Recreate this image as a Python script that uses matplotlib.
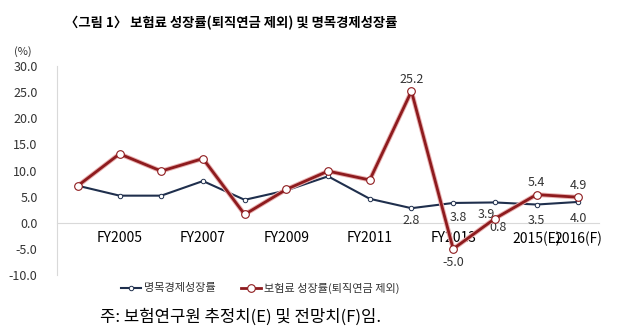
import matplotlib
matplotlib.use("Agg")
import matplotlib.pyplot as plt
import numpy as np

plt.rcParams['font.family'] = ['Noto Sans CJK KR', 'DejaVu Sans']

years = ['FY2004', 'FY2005', 'FY2006', 'FY2007', 'FY2008', 'FY2009', 'FY2010',
         'FY2011', 'FY2012', 'FY2013', 'FY2014', '2015(E)', '2016(F)']
tick_idx = [1, 3, 5, 7, 9, 11, 12]
nominal_gdp = [7.1, 5.2, 5.2, 8.0, 4.4, 6.2, 8.9, 4.6, 2.8, 3.8, 3.9, 3.5, 4.0]
premium = [7.1, 13.2, 9.9, 12.3, 1.6, 6.4, 9.9, 8.2, 25.2, -5.0, 0.8, 5.4, 4.9]

navy = '#1f2f4d'
red = '#8e1b1e'
grey = '#d9d9d9'

fig = plt.figure(figsize=(6.17, 3.29), dpi=100)
ax = fig.add_axes([0.0924, 0.164, 0.8786, 0.635])
x = np.arange(len(years))

ax.plot(x, nominal_gdp, color=navy, lw=1.5, marker='o', ms=3.2,
        mfc='white', mec=navy, mew=0.7, label='명목경제성장률', zorder=3)
# soft halo under the premium line
ax.plot(x, premium, color='#e8b0b0', lw=3.4, zorder=3.5, solid_capstyle='round')
ax.plot(x, premium, color=red, lw=2.0, marker='o', ms=5.5,
        mfc='white', mec=red, mew=0.8, label='보험료 성장률(퇴직연금 제외)', zorder=4)

ax.set_xlim(-0.5, 12.5)
ax.set_ylim(-10, 30)
ax.set_yticks(np.arange(-10, 31, 5))
ax.set_yticklabels([f'{v:.1f}' for v in np.arange(-10, 31, 5)], fontsize=9, color='#333333')
ax.set_xticks(tick_idx)
ax.set_xticklabels([years[i] for i in tick_idx], fontsize=8.3, color='#333333')
ax.tick_params(length=0)
ax.tick_params(axis='x', pad=6)
ax.tick_params(axis='y', pad=14)

for s in ['top', 'right']:
    ax.spines[s].set_visible(False)
ax.spines['bottom'].set_position(('data', 0))
ax.spines['bottom'].set_color(grey)
ax.spines['left'].set_color(grey)

# value labels
lbl = dict(fontsize=9, color='#333333', ha='center')
ax.annotate('25.2', (8, premium[8]), xytext=(0, 4), textcoords='offset points', va='bottom', **lbl)
ax.annotate('-5.0', (9, premium[9]), xytext=(0, -5), textcoords='offset points', va='top', **lbl)
ax.annotate('0.8', (10, premium[10]), xytext=(2, -2), textcoords='offset points', va='top', **lbl)
ax.annotate('5.4', (11, premium[11]), xytext=(0, 4), textcoords='offset points', va='bottom', **lbl)
ax.annotate('4.9', (12, premium[12]), xytext=(0, 4), textcoords='offset points', va='bottom', **lbl)
ax.annotate('2.8', (8, nominal_gdp[8]), xytext=(0, -4), textcoords='offset points', va='top', **lbl)
ax.annotate('3.8', (9, nominal_gdp[9]), xytext=(4, -6), textcoords='offset points', va='top', **lbl)
ax.annotate('3.9', (10, nominal_gdp[10]), xytext=(-6, -4), textcoords='offset points', va='top', **lbl)
ax.annotate('3.5', (11, nominal_gdp[11]), xytext=(0, -7), textcoords='offset points', va='top', **lbl)
ax.annotate('4.0', (12, nominal_gdp[12]), xytext=(0, -7), textcoords='offset points', va='top', **lbl)

fig.text(0.106, 0.93, '〈그림 1〉 보험료 성장률(퇴직연금 제외) 및 명목경제성장률',
         fontsize=9.6, fontweight='bold', va='center', ha='left')
fig.text(0.022, 0.842, '(%)', fontsize=8, color='#333333', va='center')

ax.legend(loc='center', bbox_to_anchor=(0.375, -0.062), ncol=2, frameon=False,
          fontsize=8, handlelength=1.8, columnspacing=2.2, handletextpad=0.3,
          labelcolor='#333333')

fig.text(0.162, 0.035, '주: 보험연구원 추정치(E) 및 전망치(F)임.', fontsize=12, va='center')

fig.savefig('out.png', dpi=100)
